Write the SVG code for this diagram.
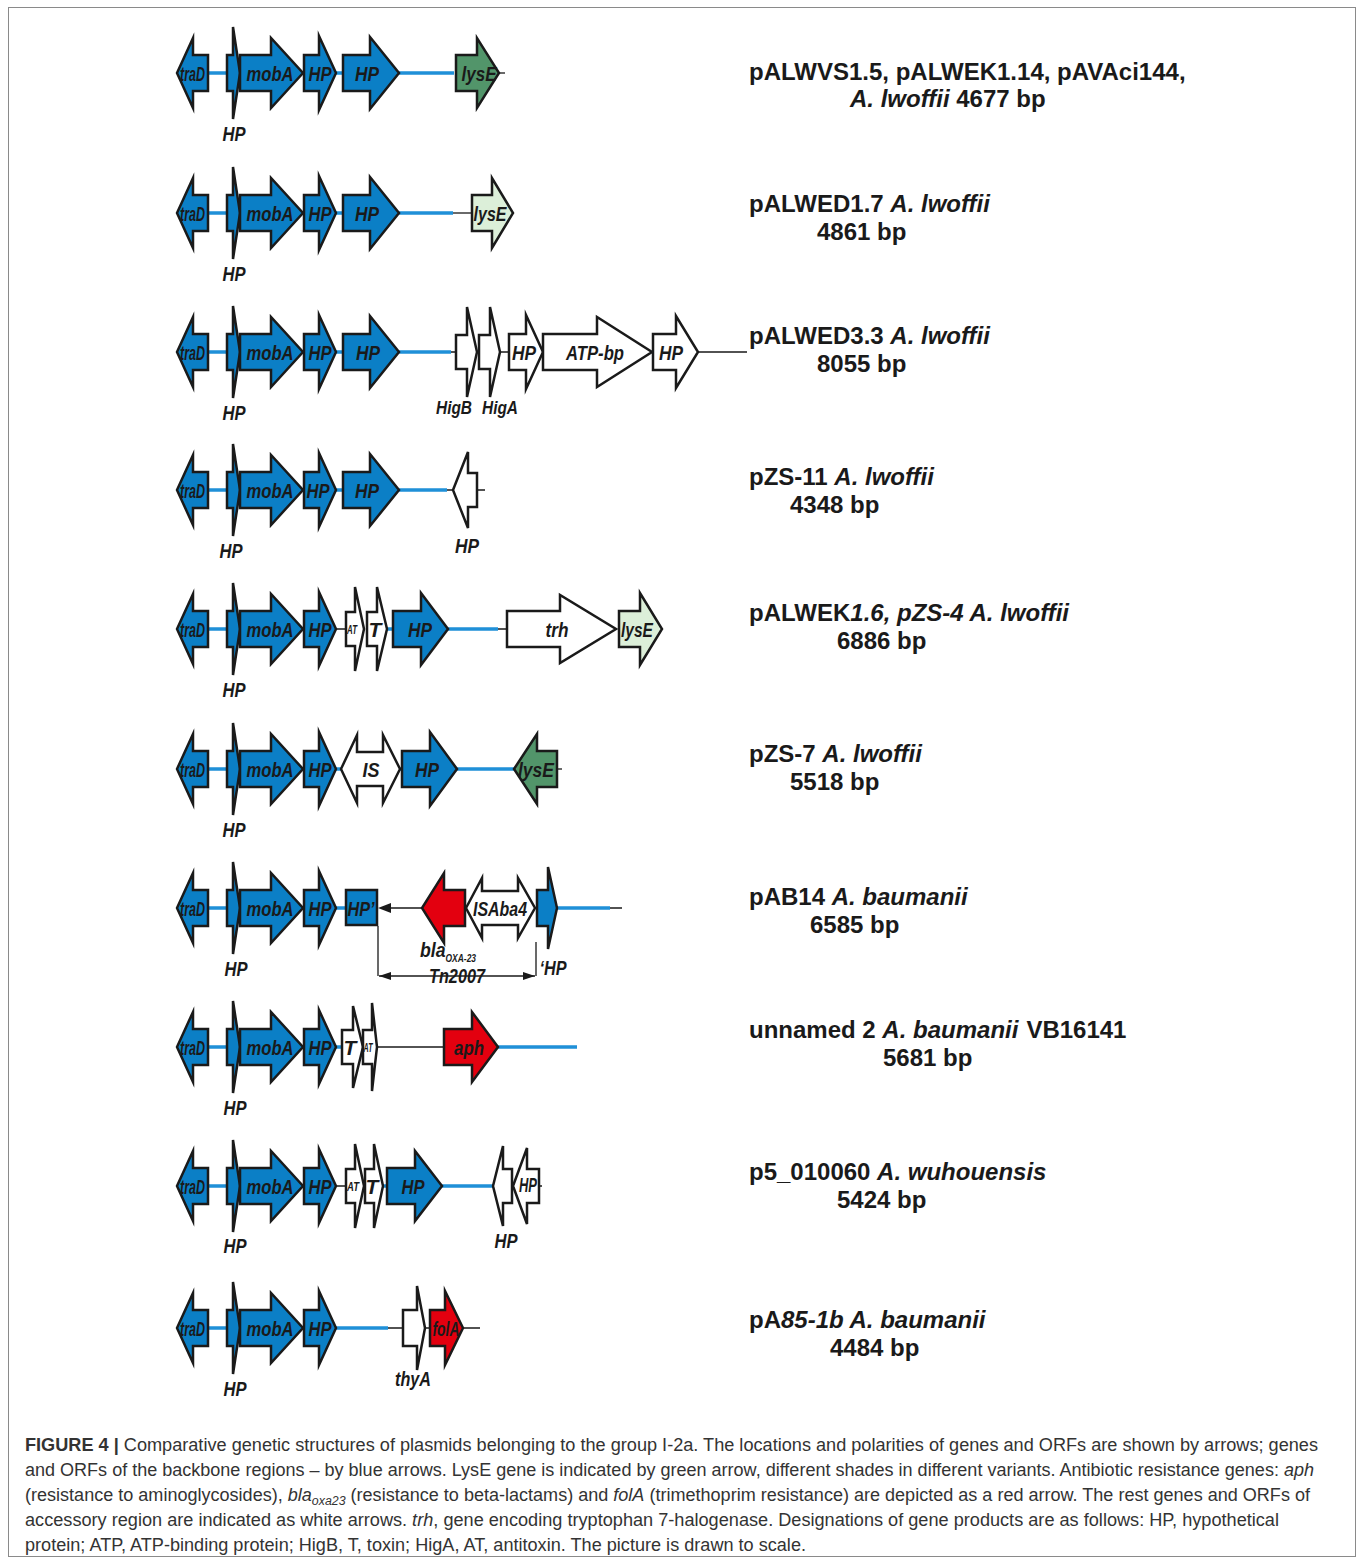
<svg xmlns="http://www.w3.org/2000/svg" width="1360" height="1560" viewBox="0 0 1360 1560">
<defs>
<style>
.a{stroke:#1a1a1a;stroke-width:2.5;stroke-linejoin:miter;stroke-miterlimit:5}
.bl{fill:#0b7fc6}
.wh{fill:#ffffff}
.gd{fill:#52956a}
.gl{fill:#dcefd9}
.rd{fill:#e3000f}
.lb{stroke:#1f90d8;stroke-width:3.5;fill:none}
.lk{stroke:#1a1a1a;stroke-width:1.3;fill:none}
.g{font-family:"Liberation Sans",Arial,sans-serif;font-weight:bold;font-style:italic;font-size:21px;text-anchor:middle;fill:#1a1a1a}
.gst{text-anchor:start}
.gs{font-size:13px}
.gm{font-size:19px}
.t{font-family:"Liberation Sans",Arial,sans-serif;font-weight:bold;font-size:24px;fill:#1a1a1a}
.i{font-style:italic}
.cap{font-family:"Liberation Sans Narrow","Liberation Sans",Arial,sans-serif;font-size:17.5px;fill:#333333}
</style>
<marker id="ah" viewBox="0 0 12 8" refX="12" refY="4" markerWidth="12" markerHeight="8" markerUnits="userSpaceOnUse" orient="auto-start-reverse">
<path d="M0,0 L12,4 L0,8 Z" fill="#1a1a1a"/>
</marker>
</defs>
<rect x="0" y="0" width="1360" height="1560" fill="#ffffff"/>
<rect x="8.5" y="7.5" width="1347" height="1549" fill="none" stroke="#8a8a8a" stroke-width="1"/>

<g id="connectors">
<g transform="translate(0,73)">
<path class="lb" d="M208,0H227M336,0H343M399,0H454"/><path class="lk" d="M499,0H505"/>
</g>
<g transform="translate(0,213)">
<path class="lb" d="M208,0H227M336,0H343M399,0H453"/><path class="lk" d="M453,0H472"/>
</g>
<g transform="translate(0,352)">
<path class="lb" d="M208,0H227M336,0H343M399,0H451"/><path class="lk" d="M451,0H456M500,0H509M698,0H747"/>
</g>
<g transform="translate(0,490)">
<path class="lb" d="M208,0H227M336,0H343M399,0H447"/><path class="lk" d="M447,0H453M477,0H485"/>
</g>
<g transform="translate(0,629)">
<path class="lb" d="M208,0H227M387,0H393M448,0H498"/><path class="lk" d="M336,0H346M498,0H507"/>
</g>
<g transform="translate(0,769)">
<path class="lb" d="M208,0H227M336,0H341M400,0H402M457,0H514"/><path class="lk" d="M557,0H562"/>
</g>
<g transform="translate(0,908)">
<path class="lb" d="M208,0H227M336,0H346M557,0H610"/><path class="lk" d="M391,0H422M610,0H622"/>
<path class="lk" d="M378,18V68M536,34V68"/>
<path class="lk" d="M379,68H535" marker-start="url(#ah)" marker-end="url(#ah)"/>
</g>
<g transform="translate(0,1047)">
<path class="lb" d="M208,0H227M336,0H342M498,0H577"/><path class="lk" d="M377,0H444"/>
</g>
<g transform="translate(0,1186)">
<path class="lb" d="M208,0H227M383,0H387M442,0H493"/><path class="lk" d="M336,0H346M539,0H542"/>
</g>
<g transform="translate(0,1328)">
<path class="lb" d="M208,0H227M336,0H388"/><path class="lk" d="M388,0H403M425,0H430M463,0H480"/>
</g>
</g>

<g id="row1" transform="translate(0,73)">
<g id="r1-traD"><path class="a bl" d="M208,-18H193V-35L177,0L193,35V18H208Z"/><text class="g" x="192.5" y="7.5" textLength="25" lengthAdjust="spacingAndGlyphs">traD</text></g>
<g id="r1-hp1"><path class="a bl" d="M227,-18H233V-46L240,0L233,46V18H227Z"/><text class="g" x="234" y="68" textLength="23" lengthAdjust="spacingAndGlyphs">HP</text></g>
<g id="r1-mobA"><path class="a bl" d="M240,-18H271V-35L303,0L271,35V18H240Z"/><text class="g" x="270" y="7.5" textLength="47" lengthAdjust="spacingAndGlyphs">mobA</text></g>
<g id="r1-hp2"><path class="a bl" d="M304,-18H319V-37L336,0L319,37V18H304Z"/><text class="g" x="320" y="7.5" textLength="23" lengthAdjust="spacingAndGlyphs">HP</text></g>
<g id="r1-hp3"><path class="a bl" d="M343,-18H370V-36L399,0L370,36V18H343Z"/><text class="g" x="367" y="7.5" textLength="24" lengthAdjust="spacingAndGlyphs">HP</text></g>
<g id="r1-lysE"><path class="a gd" d="M456,-18H477V-35L499,0L477,35V18H456Z"/><text class="g" x="479" y="7.5" textLength="35" lengthAdjust="spacingAndGlyphs">lysE</text></g>
</g>

<g id="row2" transform="translate(0,213)">
<g id="r2-traD"><path class="a bl" d="M208,-18H193V-35L177,0L193,35V18H208Z"/><text class="g" x="192.5" y="7.5" textLength="25" lengthAdjust="spacingAndGlyphs">traD</text></g>
<g id="r2-hp1"><path class="a bl" d="M227,-18H233V-46L240,0L233,46V18H227Z"/><text class="g" x="234" y="68" textLength="23" lengthAdjust="spacingAndGlyphs">HP</text></g>
<g id="r2-mobA"><path class="a bl" d="M240,-18H271V-35L303,0L271,35V18H240Z"/><text class="g" x="270" y="7.5" textLength="47" lengthAdjust="spacingAndGlyphs">mobA</text></g>
<g id="r2-hp2"><path class="a bl" d="M304,-18H319V-37L336,0L319,37V18H304Z"/><text class="g" x="320" y="7.5" textLength="23" lengthAdjust="spacingAndGlyphs">HP</text></g>
<g id="r2-hp3"><path class="a bl" d="M343,-18H370V-36L399,0L370,36V18H343Z"/><text class="g" x="367" y="7.5" textLength="24" lengthAdjust="spacingAndGlyphs">HP</text></g>
<g id="r2-lysE"><path class="a gl" d="M472,-18H492V-35L513,0L492,35V18H472Z"/><text class="g" x="490" y="7.5" textLength="33" lengthAdjust="spacingAndGlyphs">lysE</text></g>
</g>

<g id="row3" transform="translate(0,352)">
<g id="r3-traD"><path class="a bl" d="M208,-18H193V-35L177,0L193,35V18H208Z"/><text class="g" x="192.5" y="7.5" textLength="25" lengthAdjust="spacingAndGlyphs">traD</text></g>
<g id="r3-hp1"><path class="a bl" d="M227,-18H233V-46L240,0L233,46V18H227Z"/><text class="g" x="234" y="68" textLength="23" lengthAdjust="spacingAndGlyphs">HP</text></g>
<g id="r3-mobA"><path class="a bl" d="M240,-18H271V-35L303,0L271,35V18H240Z"/><text class="g" x="270" y="7.5" textLength="47" lengthAdjust="spacingAndGlyphs">mobA</text></g>
<g id="r3-hp2"><path class="a bl" d="M304,-18H319V-37L336,0L319,37V18H304Z"/><text class="g" x="320" y="7.5" textLength="23" lengthAdjust="spacingAndGlyphs">HP</text></g>
<g id="r3-hp3"><path class="a bl" d="M343,-18H370V-36L399,0L370,36V18H343Z"/><text class="g" x="368" y="7.5" textLength="24" lengthAdjust="spacingAndGlyphs">HP</text></g>
<g id="r3-higB"><path class="a wh" d="M456,-17H467V-45L477,0L467,45V17H456Z"/><text class="g gm" x="454" y="62" textLength="36" lengthAdjust="spacingAndGlyphs">HigB</text></g>
<g id="r3-higA"><path class="a wh" d="M479,-17H490V-45L500,0L490,45V17H479Z"/><text class="g gm" x="500" y="62" textLength="36" lengthAdjust="spacingAndGlyphs">HigA</text></g>
<g id="r3-hp4"><path class="a wh" d="M509,-18H526V-37L543,0L526,37V18H509Z"/><text class="g" x="524" y="7.5" textLength="24" lengthAdjust="spacingAndGlyphs">HP</text></g>
<g id="r3-atp"><path class="a wh" d="M543,-18H597V-35L652,0L597,35V18H543Z"/><text class="g" x="595" y="7.5" textLength="58" lengthAdjust="spacingAndGlyphs">ATP-bp</text></g>
<g id="r3-hp5"><path class="a wh" d="M653,-18H676V-36L698,0L676,36V18H653Z"/><text class="g" x="671" y="7.5" textLength="24" lengthAdjust="spacingAndGlyphs">HP</text></g>
</g>

<g id="row4" transform="translate(0,490)">
<g id="r4-traD"><path class="a bl" d="M208,-18H193V-35L177,0L193,35V18H208Z"/><text class="g" x="192.5" y="7.5" textLength="25" lengthAdjust="spacingAndGlyphs">traD</text></g>
<g id="r4-hp1"><path class="a bl" d="M227,-18H233V-46L240,0L233,46V18H227Z"/><text class="g" x="231" y="68" textLength="23" lengthAdjust="spacingAndGlyphs">HP</text></g>
<g id="r4-mobA"><path class="a bl" d="M240,-18H271V-35L303,0L271,35V18H240Z"/><text class="g" x="270" y="7.5" textLength="47" lengthAdjust="spacingAndGlyphs">mobA</text></g>
<g id="r4-hp2"><path class="a bl" d="M304,-18H319V-37L336,0L319,37V18H304Z"/><text class="g" x="318" y="7.5" textLength="23" lengthAdjust="spacingAndGlyphs">HP</text></g>
<g id="r4-hp3"><path class="a bl" d="M343,-18H370V-36L399,0L370,36V18H343Z"/><text class="g" x="367" y="7.5" textLength="24" lengthAdjust="spacingAndGlyphs">HP</text></g>
<g id="r4-hp4"><path class="a wh" d="M477,-17H468V-38L453,0L468,38V17H477Z"/><text class="g" x="467" y="63" textLength="24" lengthAdjust="spacingAndGlyphs">HP</text></g>
</g>

<g id="row5" transform="translate(0,629)">
<g id="r5-traD"><path class="a bl" d="M208,-18H193V-35L177,0L193,35V18H208Z"/><text class="g" x="192.5" y="7.5" textLength="25" lengthAdjust="spacingAndGlyphs">traD</text></g>
<g id="r5-hp1"><path class="a bl" d="M227,-18H233V-46L240,0L233,46V18H227Z"/><text class="g" x="234" y="68" textLength="23" lengthAdjust="spacingAndGlyphs">HP</text></g>
<g id="r5-mobA"><path class="a bl" d="M240,-18H271V-35L303,0L271,35V18H240Z"/><text class="g" x="270" y="7.5" textLength="47" lengthAdjust="spacingAndGlyphs">mobA</text></g>
<g id="r5-hp2"><path class="a bl" d="M304,-18H319V-37L336,0L319,37V18H304Z"/><text class="g" x="320" y="7.5" textLength="23" lengthAdjust="spacingAndGlyphs">HP</text></g>
<g id="r5-at"><path class="a wh" d="M346,-17H355V-42L364,0L355,42V17H346Z"/><text class="g gs" x="352" y="5" textLength="10" lengthAdjust="spacingAndGlyphs">AT</text></g>
<g id="r5-t"><path class="a wh" d="M367,-17H377V-42L387,0L377,42V17H367Z"/><text class="g" x="375" y="7.5">T</text></g>
<g id="r5-hp3"><path class="a bl" d="M393,-18H421V-36L448,0L421,36V18H393Z"/><text class="g" x="420" y="7.5" textLength="24" lengthAdjust="spacingAndGlyphs">HP</text></g>
<g id="r5-trh"><path class="a wh" d="M507,-18H560V-34L616,0L560,34V18H507Z"/><text class="g" x="557" y="7.5" textLength="23" lengthAdjust="spacingAndGlyphs">trh</text></g>
<g id="r5-lysE"><path class="a gl" d="M619,-18H640V-36L662,0L640,36V18H619Z"/><text class="g" x="637" y="7.5" textLength="32" lengthAdjust="spacingAndGlyphs">lysE</text></g>
</g>

<g id="row6" transform="translate(0,769)">
<g id="r6-traD"><path class="a bl" d="M208,-18H193V-35L177,0L193,35V18H208Z"/><text class="g" x="192.5" y="7.5" textLength="25" lengthAdjust="spacingAndGlyphs">traD</text></g>
<g id="r6-hp1"><path class="a bl" d="M227,-18H233V-46L240,0L233,46V18H227Z"/><text class="g" x="234" y="68" textLength="23" lengthAdjust="spacingAndGlyphs">HP</text></g>
<g id="r6-mobA"><path class="a bl" d="M240,-18H271V-35L303,0L271,35V18H240Z"/><text class="g" x="270" y="7.5" textLength="47" lengthAdjust="spacingAndGlyphs">mobA</text></g>
<g id="r6-hp2"><path class="a bl" d="M304,-18H319V-37L336,0L319,37V18H304Z"/><text class="g" x="320" y="7.5" textLength="23" lengthAdjust="spacingAndGlyphs">HP</text></g>
<g id="r6-is"><path class="a wh" d="M341,0L357,-34V-17H383V-34L400,0L383,34V17H357V34Z"/><text class="g" x="371" y="7.5" textLength="17" lengthAdjust="spacingAndGlyphs">IS</text></g>
<g id="r6-hp3"><path class="a bl" d="M402,-18H430V-37L457,0L430,37V18H402Z"/><text class="g" x="427" y="7.5" textLength="24" lengthAdjust="spacingAndGlyphs">HP</text></g>
<g id="r6-lysE"><path class="a gd" d="M557,-18H537V-35L514,0L537,35V18H557Z"/><text class="g" x="536" y="7.5" textLength="36" lengthAdjust="spacingAndGlyphs">lysE</text></g>
</g>

<g id="row7" transform="translate(0,908)">
<g id="r7-traD"><path class="a bl" d="M208,-18H193V-35L177,0L193,35V18H208Z"/><text class="g" x="192.5" y="7.5" textLength="25" lengthAdjust="spacingAndGlyphs">traD</text></g>
<g id="r7-hp1"><path class="a bl" d="M227,-18H233V-46L240,0L233,46V18H227Z"/><text class="g" x="236" y="68" textLength="23" lengthAdjust="spacingAndGlyphs">HP</text></g>
<g id="r7-mobA"><path class="a bl" d="M240,-18H271V-35L303,0L271,35V18H240Z"/><text class="g" x="270" y="7.5" textLength="47" lengthAdjust="spacingAndGlyphs">mobA</text></g>
<g id="r7-hp2"><path class="a bl" d="M304,-18H319V-37L336,0L319,37V18H304Z"/><text class="g" x="320" y="7.5" textLength="23" lengthAdjust="spacingAndGlyphs">HP</text></g>
<g id="r7-hpp"><rect class="a bl" x="346" y="-18" width="31" height="35"/><text class="g" x="361" y="7.5" textLength="27" lengthAdjust="spacingAndGlyphs">HP’</text></g>
<g id="r7-dir"><path d="M378,0L391,-5V5Z" fill="#1a1a1a"/></g>
<g id="r7-bla"><path class="a rd" d="M465,-18H444V-35L422,0L444,35V18H465Z"/><text class="g gst" x="420" y="49" textLength="56" lengthAdjust="spacingAndGlyphs">bla<tspan font-size="10" dy="5">OXA-23</tspan></text></g>
<g id="r7-isaba4"><path class="a wh" d="M466,0L482,-30V-17H518V-30L535,0L518,30V17H482V30Z"/><text class="g" x="500" y="7.5" textLength="54" lengthAdjust="spacingAndGlyphs">ISAba4</text></g>
<g id="r7-hpq"><path class="a bl" d="M537,-18H548V-41L557,0L548,41V18H537Z"/><text class="g" x="553" y="67" textLength="27" lengthAdjust="spacingAndGlyphs">‘HP</text></g>
<g id="r7-tn2007"><text class="g" x="457" y="75" textLength="56" lengthAdjust="spacingAndGlyphs">Tn2007</text></g>
</g>

<g id="row8" transform="translate(0,1047)">
<g id="r8-traD"><path class="a bl" d="M208,-18H193V-35L177,0L193,35V18H208Z"/><text class="g" x="192.5" y="7.5" textLength="25" lengthAdjust="spacingAndGlyphs">traD</text></g>
<g id="r8-hp1"><path class="a bl" d="M227,-18H233V-46L240,0L233,46V18H227Z"/><text class="g" x="235" y="68" textLength="23" lengthAdjust="spacingAndGlyphs">HP</text></g>
<g id="r8-mobA"><path class="a bl" d="M240,-18H271V-35L303,0L271,35V18H240Z"/><text class="g" x="270" y="7.5" textLength="47" lengthAdjust="spacingAndGlyphs">mobA</text></g>
<g id="r8-hp2"><path class="a bl" d="M304,-18H319V-37L336,0L319,37V18H304Z"/><text class="g" x="320" y="7.5" textLength="23" lengthAdjust="spacingAndGlyphs">HP</text></g>
<g id="r8-t"><path class="a wh" d="M342,-17H353V-41L363,0L353,41V17H342Z"/><text class="g" x="350" y="7.5">T</text></g>
<g id="r8-at"><path class="a wh" d="M363,-17H372V-44L377,0L372,44V17H363Z"/><text class="g gs" x="368" y="5" textLength="9" lengthAdjust="spacingAndGlyphs">AT</text></g>
<g id="r8-aph"><path class="a rd" d="M444,-18H472V-35L498,0L472,35V18H444Z"/><text class="g" x="469" y="7.5" textLength="30" lengthAdjust="spacingAndGlyphs">aph</text></g>
</g>

<g id="row9" transform="translate(0,1186)">
<g id="r9-traD"><path class="a bl" d="M208,-18H193V-35L177,0L193,35V18H208Z"/><text class="g" x="192.5" y="7.5" textLength="25" lengthAdjust="spacingAndGlyphs">traD</text></g>
<g id="r9-hp1"><path class="a bl" d="M227,-18H233V-46L240,0L233,46V18H227Z"/><text class="g" x="235" y="67" textLength="23" lengthAdjust="spacingAndGlyphs">HP</text></g>
<g id="r9-mobA"><path class="a bl" d="M240,-18H271V-35L303,0L271,35V18H240Z"/><text class="g" x="270" y="7.5" textLength="47" lengthAdjust="spacingAndGlyphs">mobA</text></g>
<g id="r9-hp2"><path class="a bl" d="M304,-18H319V-37L336,0L319,37V18H304Z"/><text class="g" x="320" y="7.5" textLength="23" lengthAdjust="spacingAndGlyphs">HP</text></g>
<g id="r9-at"><path class="a wh" d="M346,-17H355V-42L364,0L355,42V17H346Z"/><text class="g gs" x="353" y="5" textLength="12" lengthAdjust="spacingAndGlyphs">AT</text></g>
<g id="r9-t"><path class="a wh" d="M365,-17H374V-42L383,0L374,42V17H365Z"/><text class="g" x="372" y="7.5">T</text></g>
<g id="r9-hp3"><path class="a bl" d="M387,-18H415V-35L442,0L415,35V18H387Z"/><text class="g" x="413" y="7.5" textLength="23" lengthAdjust="spacingAndGlyphs">HP</text></g>
<g id="r9-hp4"><path class="a wh" d="M512,-17H503V-40L493,0L503,40V17H512Z"/><text class="g" x="506" y="62" textLength="23" lengthAdjust="spacingAndGlyphs">HP</text></g>
<g id="r9-hp5"><path class="a wh" d="M539,-17H527V-38L513,0L527,38V17H539Z"/><text class="g" x="528" y="6" font-size="17" textLength="18" lengthAdjust="spacingAndGlyphs">HP</text></g>
</g>

<g id="row10" transform="translate(0,1328)">
<g id="r10-traD"><path class="a bl" d="M208,-18H193V-35L177,0L193,35V18H208Z"/><text class="g" x="192.5" y="7.5" textLength="25" lengthAdjust="spacingAndGlyphs">traD</text></g>
<g id="r10-hp1"><path class="a bl" d="M227,-18H233V-46L240,0L233,46V18H227Z"/><text class="g" x="235" y="68" textLength="23" lengthAdjust="spacingAndGlyphs">HP</text></g>
<g id="r10-mobA"><path class="a bl" d="M240,-18H271V-35L303,0L271,35V18H240Z"/><text class="g" x="270" y="7.5" textLength="47" lengthAdjust="spacingAndGlyphs">mobA</text></g>
<g id="r10-hp2"><path class="a bl" d="M304,-18H319V-37L336,0L319,37V18H304Z"/><text class="g" x="320" y="7.5" textLength="23" lengthAdjust="spacingAndGlyphs">HP</text></g>
<g id="r10-thyA"><path class="a wh" d="M403,-18H417V-42L425,0L417,42V18H403Z"/><text class="g" x="413" y="58" textLength="36" lengthAdjust="spacingAndGlyphs">thyA</text></g>
<g id="r10-folA"><path class="a rd" d="M430,-18H445V-37L463,0L445,37V18H430Z"/><text class="g" x="446" y="7.5" textLength="27" lengthAdjust="spacingAndGlyphs">folA</text></g>
</g>

<g id="plasmid-labels">
<g id="lab1"><text class="t" x="749" y="80">pALWVS1.5, pALWEK1.14, pAVAci144,</text><text class="t" x="850" y="107"><tspan class="i">A. lwoffii</tspan> 4677 bp</text></g>
<g id="lab2"><text class="t" x="749" y="212">pALWED1.7 <tspan class="i">A. lwoffii</tspan></text><text class="t" x="817" y="240">4861 bp</text></g>
<g id="lab3"><text class="t" x="749" y="344">pALWED3.3 <tspan class="i">A. lwoffii</tspan></text><text class="t" x="817" y="372">8055 bp</text></g>
<g id="lab4"><text class="t" x="749" y="485">pZS-11 <tspan class="i">A. lwoffii</tspan></text><text class="t" x="790" y="513">4348 bp</text></g>
<g id="lab5"><text class="t" x="749" y="621">pALWEK<tspan class="i">1.6, pZS-4 A. lwoffii</tspan></text><text class="t" x="837" y="649">6886 bp</text></g>
<g id="lab6"><text class="t" x="749" y="762">pZS-7 <tspan class="i">A. lwoffii</tspan></text><text class="t" x="790" y="790">5518 bp</text></g>
<g id="lab7"><text class="t" x="749" y="905">pAB14 <tspan class="i">A. baumanii</tspan></text><text class="t" x="810" y="933">6585 bp</text></g>
<g id="lab8"><text class="t" x="749" y="1038">unnamed 2 <tspan class="i">A. baumanii</tspan><tspan dx="8">VB16141</tspan></text><text class="t" x="883" y="1066">5681 bp</text></g>
<g id="lab9"><text class="t" x="749" y="1180">p5_010060 <tspan class="i">A. wuhouensis</tspan></text><text class="t" x="837" y="1208">5424 bp</text></g>
<g id="lab10"><text class="t" x="749" y="1328">pA<tspan class="i">85-1b A. baumanii</tspan></text><text class="t" x="830" y="1356">4484 bp</text></g>
</g>

<g id="caption">
<text class="cap" x="25" y="1451" textLength="1293" lengthAdjust="spacingAndGlyphs"><tspan font-weight="bold">FIGURE 4 |</tspan> Comparative genetic structures of plasmids belonging to the group I-2a. The locations and polarities of genes and ORFs are shown by arrows; genes</text>
<text class="cap" x="25" y="1476" textLength="1289" lengthAdjust="spacingAndGlyphs">and ORFs of the backbone regions – by blue arrows. LysE gene is indicated by green arrow, different shades in different variants. Antibiotic resistance genes: <tspan class="i">aph</tspan></text>
<text class="cap" x="25" y="1501" textLength="1285" lengthAdjust="spacingAndGlyphs">(resistance to aminoglycosides), <tspan class="i">bla</tspan><tspan class="i" font-size="12" dy="4">oxa23</tspan><tspan dy="-4"> (resistance to beta-lactams) and </tspan><tspan class="i">folA</tspan> (trimethoprim resistance) are depicted as a red arrow. The rest genes and ORFs of</text>
<text class="cap" x="25" y="1526" textLength="1254" lengthAdjust="spacingAndGlyphs">accessory region are indicated as white arrows. <tspan class="i">trh</tspan>, gene encoding tryptophan 7-halogenase. Designations of gene products are as follows: HP, hypothetical</text>
<text class="cap" x="25" y="1551" textLength="781" lengthAdjust="spacingAndGlyphs">protein; ATP, ATP-binding protein; HigB, T, toxin; HigA, AT, antitoxin. The picture is drawn to scale.</text>
</g>
</svg>
